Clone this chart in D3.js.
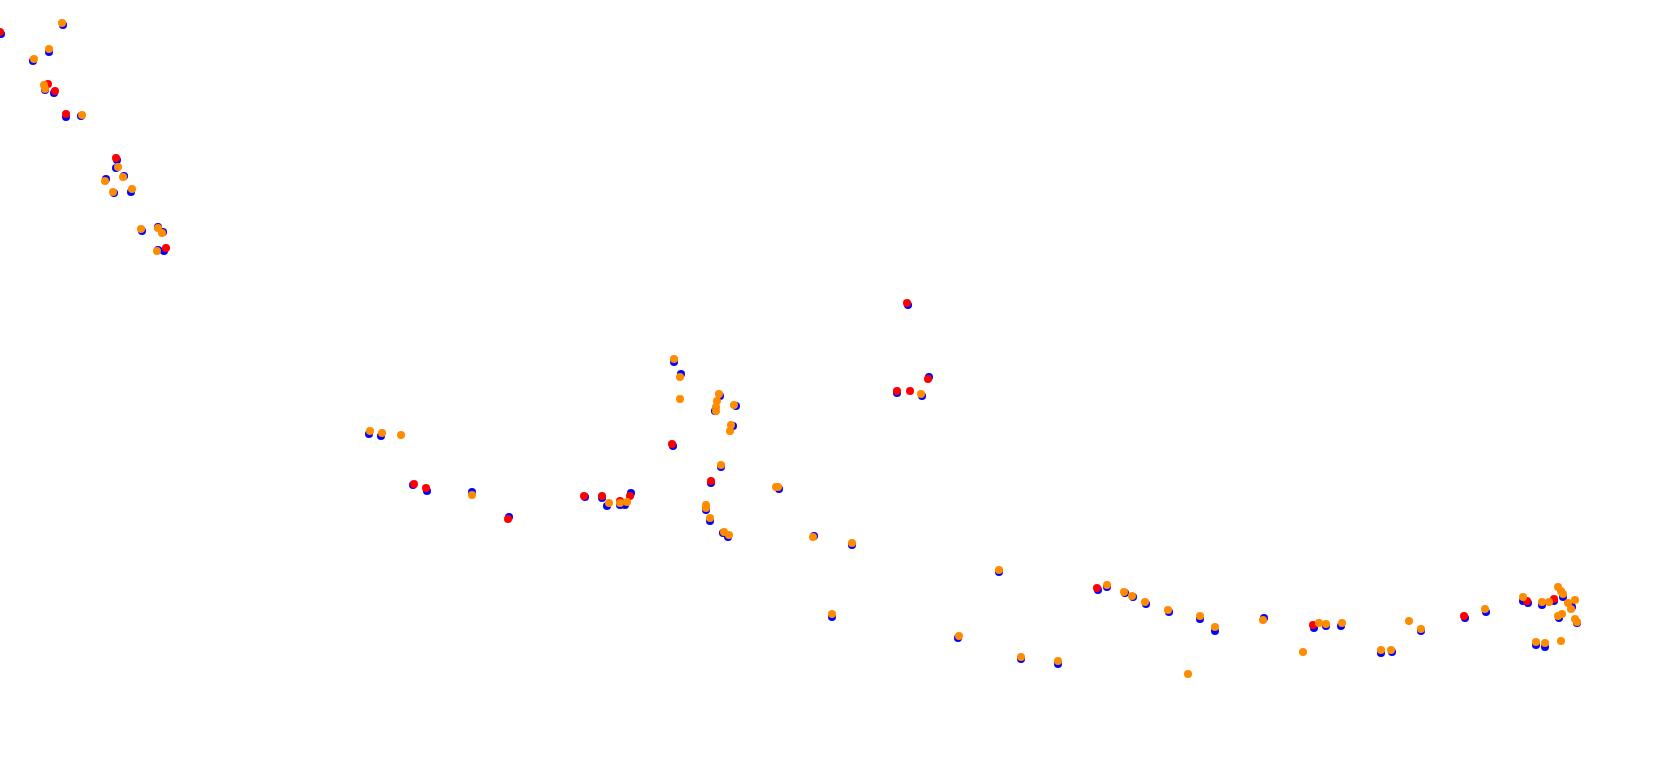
<!DOCTYPE html>
<html>
<head>
<meta charset="utf-8">
<script src="https://cdn.jsdelivr.net/npm/d3@7"></script>
<style>
  body { margin: 0; background: #fff; overflow: hidden; }
</style>
</head>
<body>
<div id="my_dataviz"></div>
<script>
// positions [x, y] in plot units (origin top left)
const bluePoints = [
  [1,34],[63,25],[49,52],[33,61],[45,90],[54,93],[66,117],[81,116],[117,160],[116,168],[124,176],[106,179],[114,193],[131,192],[142,231],[158,227],[163,232],[158,250],[164,251],
  [369,434],[381,436],[413,485],[427,491],[472,492],[509,517],[585,497],[602,498],[607,506],[620,505],[625,505],[631,493],
  [674,362],[681,374],[720,396],[715,411],[736,406],[733,426],[673,446],[721,467],[711,483],[779,489],[706,510],[710,521],[728,537],[723,533],[814,536],[852,545],[897,393],[922,396],[929,377],[908,305],
  [832,617],[999,572],[958,638],[1021,659],[1058,664],
  [1098,590],[1107,587],[1125,593],[1133,597],[1146,604],[1169,612],[1200,619],[1215,631],[1264,618],[1314,628],[1326,626],[1341,626],[1381,653],[1392,652],
  [1421,631],[1465,618],[1486,612],[1536,645],[1545,647],[1523,601],[1528,603],[1542,605],[1554,601],[1563,597],[1572,607],[1559,618],[1577,623]
];

const redPoints = [
  [0,32],[48,84],[55,91],[66,114],[116,158],[166,248],
  [414,484],[426,488],[508,519],[584,496],[602,496],[620,501],[630,496],
  [672,444],[711,481],[897,391],[910,391],[928,379],[907,303],
  [1097,588],[1313,625],[1464,616],[1527,601],[1554,599]
];

const orangePoints = [
  [62,23],[49,49],[34,59],[44,85],[45,89],[82,115],[118,167],[123,177],[105,181],[113,192],[132,189],[141,229],[158,228],[162,233],[157,251],
  [370,431],[382,433],[401,435],[472,495],[609,503],[620,503],[627,502],
  [674,359],[680,377],[680,399],[719,394],[717,401],[716,407],[716,411],[734,405],[731,425],[730,431],[721,465],[776,487],[778,487],[706,505],[706,508],[710,518],[724,532],[729,535],[813,537],[852,543],[921,394],
  [832,614],[999,570],[959,636],[1021,657],[1058,661],
  [1107,585],[1124,592],[1132,596],[1145,602],[1168,610],[1200,616],[1215,627],[1263,620],[1188,674],[1319,623],[1326,624],[1342,623],[1303,652],[1381,650],[1391,650],
  [1409,621],[1421,629],[1485,609],[1536,642],[1545,643],[1561,641],[1523,597],[1542,602],[1549,602],[1558,587],[1561,591],[1563,594],[1568,603],[1575,600],[1571,609],[1558,616],[1562,614],[1575,619],[1577,622]
];

const width = 1680, height = 778;

const svg = d3.select("#my_dataviz")
  .append("svg")
  .attr("width", width)
  .attr("height", height);

const x = d3.scaleLinear().domain([0, 1680]).range([0, width]);
const y = d3.scaleLinear().domain([0, 778]).range([0, height]);

// blue en dessous, puis rouge, puis orange
const series = [
  {points: bluePoints, color: "blue"},
  {points: redPoints, color: "red"},
  {points: orangePoints, color: "darkorange"}
];

series.forEach(s => {
  svg.append("g")
    .selectAll("circle")
    .data(s.points)
    .enter()
    .append("circle")
    .attr("cx", d => x(d[0]))
    .attr("cy", d => y(d[1]))
    .attr("r", 4)
    .attr("fill", s.color);
});
</script>
</body>
</html>
